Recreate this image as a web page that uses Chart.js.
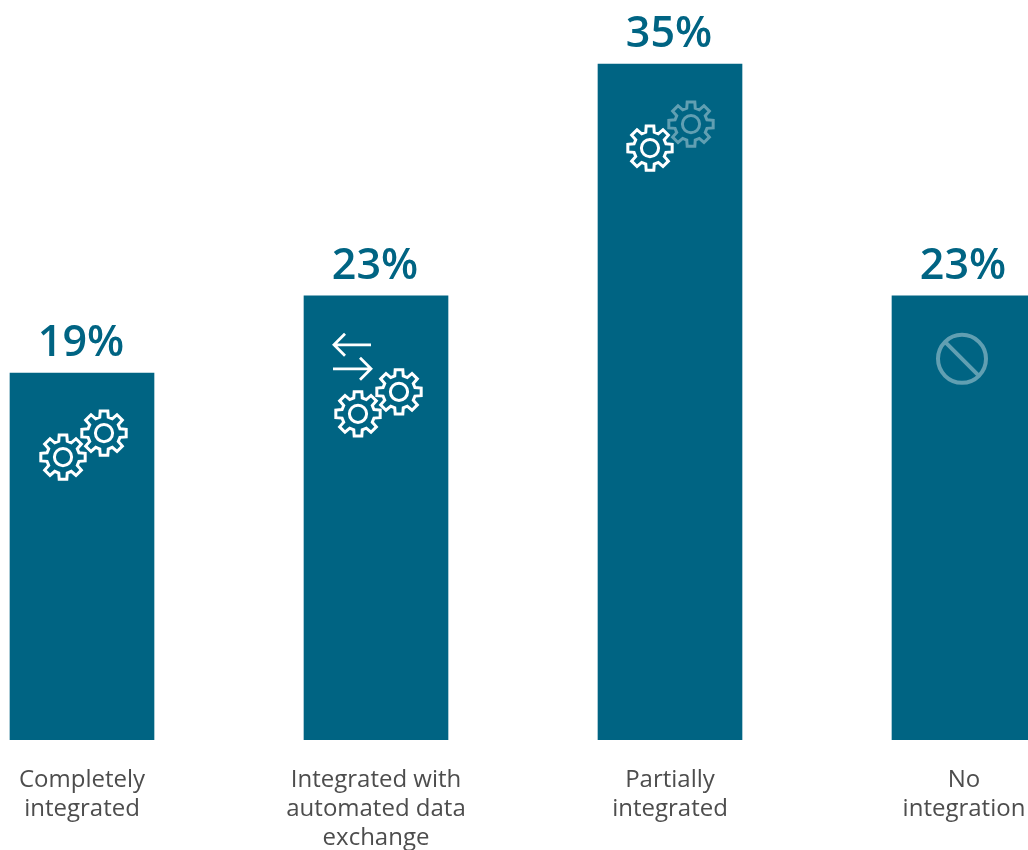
<!DOCTYPE html>
<html>
<head>
<meta charset="utf-8">
<title>Integration levels</title>
<script src="https://cdn.jsdelivr.net/npm/chart.js@4"></script>
<style>
    html, body { margin: 0; padding: 0; background: #fff; overflow: hidden; width: 1028px; height: 850px; }
    /* last bar runs off the right edge of the page */
    #integrationChart { position: absolute; left: -65px; top: 0; }
</style>
</head>
<body>
<canvas id="integrationChart" width="1176" height="850"></canvas>
<script>
const categories = [
    ['Completely', 'integrated'],
    ['Integrated with', 'automated data', 'exchange'],
    ['Partially', 'integrated'],
    ['No', 'integration']
];
const shares = [19, 23, 35, 23];
const icons = ['gears', 'exchange', 'partial', 'none'];

const BAR_COLOR = '#006483';

// outline of a cog, with a ring in the middle
function drawGear(ctx, cx, cy, color) {
    const teeth = 8, tip = 22.5, root = 16.5, step = Math.PI * 2 / teeth;
    ctx.save();
    ctx.translate(cx, cy);
    ctx.strokeStyle = color;
    ctx.lineWidth = 3;
    ctx.lineJoin = 'miter';
    ctx.beginPath();
    for (let i = 0; i < teeth; i++) {
        const a = i * step - Math.PI / 2;
        const pts = [[root, -0.26], [tip, -0.17], [tip, 0.17], [root, 0.26]];
        pts.forEach(([r, off], j) => {
            const x = r * Math.cos(a + off), y = r * Math.sin(a + off);
            if (i === 0 && j === 0) ctx.moveTo(x, y); else ctx.lineTo(x, y);
        });
    }
    ctx.closePath();
    ctx.stroke();
    ctx.beginPath();
    ctx.arc(0, 0, 8.6, 0, Math.PI * 2);
    ctx.stroke();
    ctx.restore();
}

function drawArrow(ctx, x0, x1, y) {
    const dir = x1 > x0 ? -1 : 1;
    ctx.save();
    ctx.strokeStyle = '#fff';
    ctx.lineWidth = 2.8;
    ctx.beginPath();
    ctx.moveTo(x0, y);
    ctx.lineTo(x1, y);
    ctx.moveTo(x1 + dir * 11, y - 11);
    ctx.lineTo(x1, y);
    ctx.lineTo(x1 + dir * 11, y + 11);
    ctx.stroke();
    ctx.restore();
}

const faded = 'rgba(255,255,255,0.38)';

const iconDrawers = {
    gears(ctx, x, top) {
        drawGear(ctx, x - 19, top + 84, '#fff');
        drawGear(ctx, x + 22, top + 60, '#fff');
    },
    exchange(ctx, x, top) {
        drawArrow(ctx, x - 5, x - 42, top + 49);
        drawArrow(ctx, x - 43, x - 5, top + 73);
        drawGear(ctx, x - 18, top + 118, '#fff');
        drawGear(ctx, x + 23, top + 96, '#fff');
    },
    partial(ctx, x, top) {
        drawGear(ctx, x + 21, top + 60, faded);
        drawGear(ctx, x - 20, top + 84, '#fff');
    },
    none(ctx, x, top) {
        const cx = x - 2, cy = top + 63, r = 24;
        ctx.save();
        ctx.strokeStyle = faded;
        ctx.lineWidth = 4;
        ctx.beginPath();
        ctx.arc(cx, cy, r, 0, Math.PI * 2);
        ctx.moveTo(cx - r * 0.707, cy - r * 0.707);
        ctx.lineTo(cx + r * 0.707, cy + r * 0.707);
        ctx.stroke();
        ctx.restore();
    }
};

// percentage above each bar and the small pictogram inside it
const barDecorations = {
    id: 'barDecorations',
    afterDatasetsDraw(chart) {
        const ctx = chart.ctx;
        chart.getDatasetMeta(0).data.forEach((bar, i) => {
            ctx.save();
            ctx.fillStyle = BAR_COLOR;
            ctx.font = '600 43px "Open Sans"';
            ctx.textAlign = 'center';
            ctx.textBaseline = 'alphabetic';
            ctx.fillText(shares[i] + '%', bar.x - 1, bar.y - 17);
            ctx.restore();
            iconDrawers[icons[i]](ctx, bar.x, bar.y);
        });
    }
};

new Chart(document.getElementById('integrationChart'), {
    type: 'bar',
    data: {
        labels: categories,
        datasets: [{
            data: shares,
            backgroundColor: BAR_COLOR,
            borderWidth: 0,
            barThickness: 144
        }]
    },
    options: {
        responsive: false,
        animation: false,
        plugins: {
            legend: { display: false },
            tooltip: { enabled: false }
        },
        scales: {
            x: {
                grid: { display: false },
                border: { display: false },
                afterFit(scale) { scale.height = 110; },
                ticks: {
                    autoSkip: false,
                    maxRotation: 0,
                    padding: 18,
                    color: '#4d4d4d',
                    font: { family: '"Open Sans"', size: 24, lineHeight: 1.2 }
                }
            },
            y: {
                display: false,
                min: 0,
                max: 38.32
            }
        }
    },
    plugins: [barDecorations]
});
</script>
</body>
</html>
